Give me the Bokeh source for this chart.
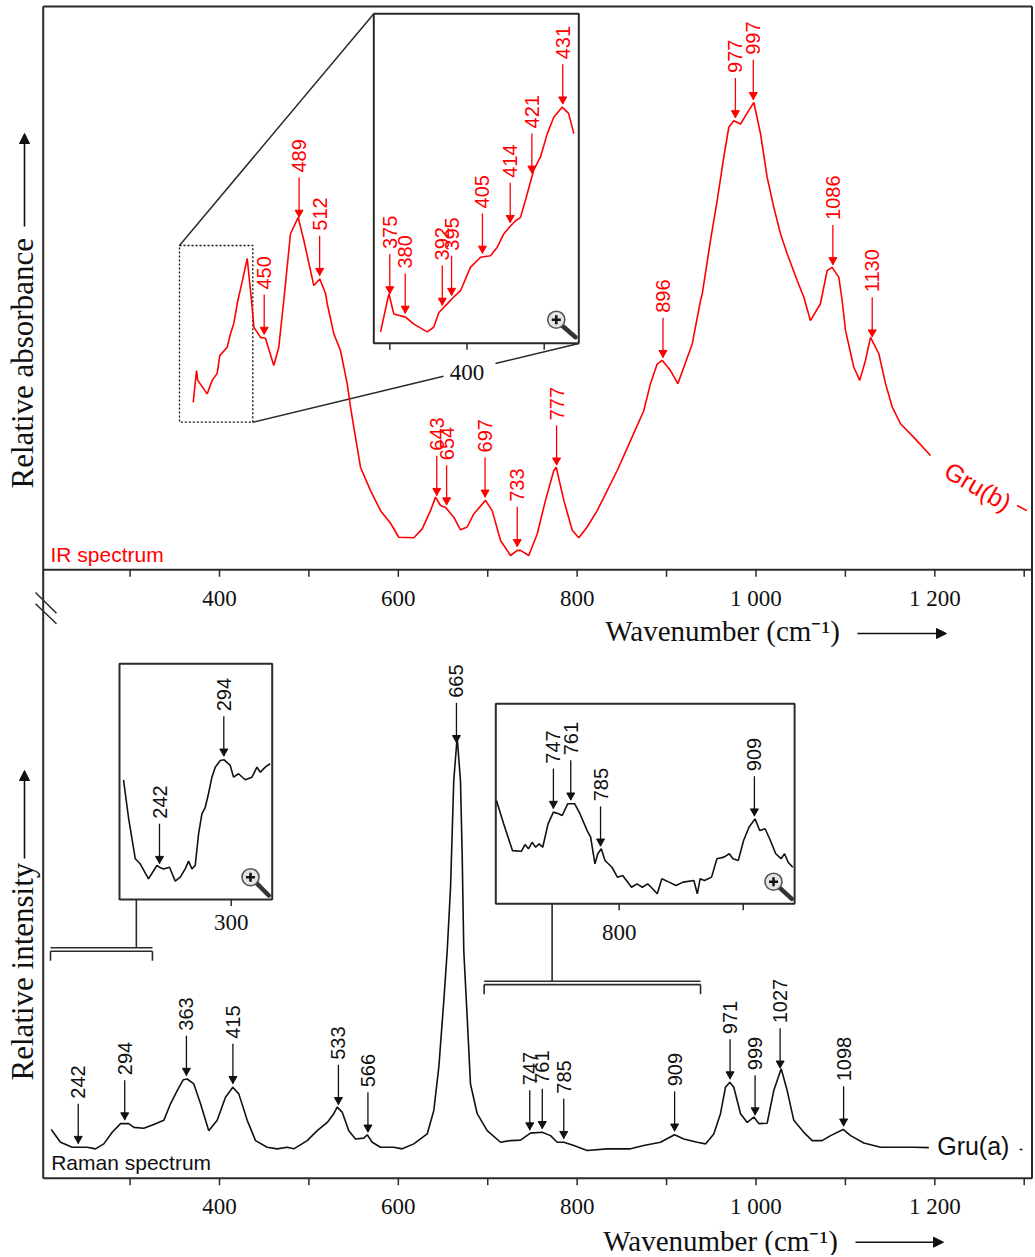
import numpy as np
from bokeh.plotting import figure
from bokeh.models import Range1d, Arrow, NormalHead
from bokeh.embed import file_html
from bokeh.resources import INLINE
from bokeh.core.properties import value

# ------------------------------------------------------------------ data
# IR spectrum (relative absorbance, peak = 1)
ir_wn = [370.6, 374.3, 375.7, 386.2, 391.8, 397.4, 400.3, 408.6, 412.3, 416.0, 420.5, 425.7, 431.0, 435.8,
         438.4, 445.9, 451.4, 460.7, 466.3, 471.9, 473.8, 479.4, 488.0, 494.3, 505.5, 512.2, 518.6, 520.5,
         527.8, 535.3, 542.8, 546.5, 550.2, 557.7, 568.9, 580.1, 591.3, 600.5, 617.3, 626.7, 636.0, 641.6,
         647.2, 652.8, 662.0, 669.5, 677.0, 684.4, 697.5, 705.0, 714.3, 725.5, 733.0, 736.6, 745.9, 755.3,
         764.6, 773.9, 776.6, 785.1, 794.5, 801.8, 811.2, 822.4, 833.6, 844.8, 859.7, 874.5, 882.0, 889.5,
         895.1, 904.4, 912.6, 919.3, 928.7, 938.0, 939.9, 949.1, 956.6, 964.0, 969.6, 975.2, 982.7, 992.0,
         997.6, 1005.1, 1012.5, 1019.9, 1027.4, 1034.9, 1046.1, 1053.5, 1060.9, 1072.1, 1079.6, 1085.2,
         1092.6, 1096.4, 1100.1, 1109.4, 1116.1, 1122.5, 1128.1, 1137.4, 1144.9, 1152.4, 1161.7, 1176.5, 1195.2]
ir_abs = [0.358, 0.426, 0.405, 0.376, 0.405, 0.420, 0.458, 0.476, 0.505, 0.527, 0.576, 0.619, 0.666, 0.576,
          0.519, 0.497, 0.495, 0.437, 0.476, 0.576, 0.612, 0.719, 0.754, 0.705, 0.608, 0.622, 0.591, 0.569,
          0.505, 0.469, 0.398, 0.348, 0.305, 0.219, 0.169, 0.126, 0.099, 0.069, 0.068, 0.087, 0.126, 0.155,
          0.137, 0.133, 0.112, 0.085, 0.091, 0.119, 0.148, 0.126, 0.062, 0.030, 0.041, 0.041, 0.030, 0.076,
          0.148, 0.212, 0.219, 0.148, 0.084, 0.068, 0.091, 0.126, 0.169, 0.212, 0.276, 0.340, 0.398, 0.440,
          0.448, 0.426, 0.398, 0.433, 0.483, 0.576, 0.590, 0.704, 0.790, 0.883, 0.947, 0.961, 0.954, 0.983,
          1.000, 0.933, 0.840, 0.776, 0.719, 0.676, 0.619, 0.583, 0.533, 0.569, 0.640, 0.647,
          0.626, 0.576, 0.512, 0.433, 0.405, 0.448, 0.497, 0.462, 0.398, 0.348, 0.312, 0.283, 0.244]
ir_tail_wn = [1292, 1303]
ir_tail_abs = [0.137, 0.126]
ir_peaks = [450, 489, 512, 643, 654, 697, 733, 777, 896, 977, 997, 1086, 1130]

# IR zoom (inset)
ir_zoom_wn = [372.0, 374.2, 374.7, 376.3, 380.1, 382.8, 387.1, 389.2, 390.9, 393.6, 395.2, 397.9, 401.1, 404.4,
              407.6, 409.8, 411.9, 413.8, 415.7, 417.3, 418.9, 421.6, 423.8, 426.0, 428.1, 430.8, 432.9, 434.6]
ir_zoom_abs = [0.377, 0.417, 0.426, 0.400, 0.396, 0.387, 0.377, 0.383, 0.402, 0.413, 0.420, 0.430, 0.460, 0.473,
               0.475, 0.486, 0.503, 0.512, 0.520, 0.524, 0.546, 0.585, 0.602, 0.632, 0.653, 0.666, 0.658, 0.632]
ir_zoom_peaks = [375, 380, 392, 395, 405, 414, 421, 431]
ir_zoom_ticks = [375, 400, 425]
ir_zoom_tick_labels = ["", "400", ""]

# Raman spectrum (relative intensity, peak = 1)
raman_wn = [211.8, 222.2, 235.3, 252.0, 261.3, 270.6, 280.0, 289.3, 298.6, 304.2, 315.3, 326.5, 337.7, 345.2,
            352.7, 359.4, 363.9, 371.3, 378.8, 388.0, 397.4, 406.7, 414.9, 421.6, 431.0, 440.3, 453.3, 464.5,
            475.7, 483.1, 498.1, 509.3, 520.5, 527.8, 531.6, 537.2, 544.6, 552.1, 561.4, 565.2, 570.8, 580.1,
            594.9, 604.3, 617.3, 632.3, 639.7, 645.3, 650.9, 654.7, 658.4, 662.0, 665.8, 669.5, 671.4, 673.2,
            675.1, 677.0, 680.7, 688.2, 699.4, 714.3, 725.5, 736.6, 747.8, 760.9, 770.2, 777.7, 785.1, 796.3,
            811.2, 833.6, 859.7, 874.5, 893.2, 908.9, 919.3, 934.3, 943.6, 952.8, 960.3, 965.9, 970.7, 975.2,
            982.7, 990.2, 997.6, 1003.2, 1012.5, 1019.9, 1028.2, 1034.9, 1042.3, 1053.5, 1062.9, 1074.0,
            1083.4, 1097.5, 1105.8, 1120.6, 1139.3, 1158.0, 1176.5, 1193.3]
raman_int = [0.051, 0.020, 0.008, 0.008, 0.004, 0.016, 0.044, 0.065, 0.065, 0.056, 0.054, 0.063, 0.073, 0.113,
             0.145, 0.171, 0.173, 0.161, 0.113, 0.048, 0.073, 0.129, 0.153, 0.137, 0.073, 0.024, 0.008, 0.004,
             0.008, 0.004, 0.024, 0.048, 0.068, 0.089, 0.105, 0.093, 0.048, 0.028, 0.030, 0.038, 0.020, 0.008,
             0.008, 0.004, 0.016, 0.040, 0.097, 0.202, 0.363, 0.484, 0.637, 0.895, 1.000, 0.895, 0.718, 0.484,
             0.403, 0.323, 0.161, 0.089, 0.048, 0.020, 0.024, 0.025, 0.042, 0.044, 0.036, 0.020, 0.020, 0.012,
             0.000, 0.004, 0.004, 0.012, 0.020, 0.038, 0.028, 0.020, 0.016, 0.040, 0.089, 0.153, 0.165, 0.153,
             0.089, 0.068, 0.081, 0.065, 0.066, 0.145, 0.198, 0.145, 0.073, 0.044, 0.024, 0.024,
             0.036, 0.051, 0.036, 0.018, 0.008, 0.008, 0.008, 0.007]
raman_tail_wn = [1295, 1298]
raman_tail_int = [0.003, 0.002]
raman_peaks = [242, 294, 363, 415, 533, 566, 665, 747, 761, 785, 909, 971, 999, 1027, 1098]

# Raman zoom 1 (left inset)
raman_z1_wn = [212.9, 216.9, 222.4, 226.4, 233.1, 239.9, 242.0, 245.2, 250.1, 254.7, 258.8, 262.8, 265.5, 268.2,
               270.9, 273.6, 276.3, 279.0, 281.6, 284.4, 287.1, 291.1, 294.3, 299.2, 301.9, 305.9, 311.3, 316.8,
               320.8, 323.5, 327.5, 331.5]
raman_z1_int = [0.0544, 0.0345, 0.0125, 0.0098, 0.0018, 0.0089, 0.0080, 0.0071, 0.0080, 0.0006, 0.0027, 0.0071,
                0.0112, 0.0071, 0.0089, 0.0257, 0.0363, 0.0398, 0.0470, 0.0558, 0.0611, 0.0646, 0.0650, 0.0620,
                0.0558, 0.0576, 0.0544, 0.0558, 0.0611, 0.0584, 0.0611, 0.0629]
raman_z1_peaks = [242, 294]
raman_z1_ticks = [300]
raman_z1_tick_labels = ["300"]

# Raman zoom 2 (right inset)
raman_z2_wn = [701.1, 706.9, 714.0, 721.2, 724.1, 726.9, 729.8, 732.7, 735.5, 738.4, 742.7, 747.0, 751.2, 754.1,
               758.5, 764.2, 768.4, 774.2, 777.0, 780.5, 782.8, 785.6, 788.6, 794.2, 798.6, 802.8, 810.0, 814.3,
               818.7, 823.0, 825.8, 830.7, 834.4, 840.2, 845.8, 851.6, 860.2, 863.0, 865.3, 868.8, 874.5, 878.8,
               884.5, 888.8, 891.7, 896.0, 900.3, 904.6, 909.5, 913.3, 917.6, 921.9, 926.2, 930.5, 933.3, 936.2,
               940.0]
raman_z2_int = [0.0455, 0.0351, 0.0232, 0.0229, 0.0259, 0.0240, 0.0269, 0.0247, 0.0262, 0.0247, 0.0351, 0.0403,
                0.0396, 0.0388, 0.0440, 0.0440, 0.0396, 0.0321, 0.0292, 0.0173, 0.0218, 0.0240, 0.0188, 0.0158,
                0.0114, 0.0121, 0.0069, 0.0084, 0.0069, 0.0084, 0.0069, 0.0040, 0.0107, 0.0092, 0.0077, 0.0092,
                0.0099, 0.0040, 0.0107, 0.0099, 0.0114, 0.0196, 0.0203, 0.0218, 0.0196, 0.0188, 0.0277, 0.0336,
                0.0373, 0.0321, 0.0329, 0.0277, 0.0218, 0.0196, 0.0218, 0.0180, 0.0158]
raman_z2_peaks = [747, 761, 785, 909]
raman_z2_ticks = [800, 900]
raman_z2_tick_labels = ["800", ""]

# main wavenumber axes
major_ticks = [400, 600, 800, 1000, 1200]
major_labels = ["400", "600", "800", "1 000", "1 200"]
minor_ticks = [300, 500, 700, 900, 1100, 1300]

# wavenumber spans shown in the Raman insets (brackets)
raman_z1_span = [211, 325]
raman_z2_span = [696, 938]

# ------------------------------------------------------------------ layout
W, H = 1033, 1255
FX = (0, W)      # layout units (page pixels) across the frame
FY = (H, 0)      # layout units bottom -> top

X_ANCHORS = {
    "wn": (400, 219.0, 1200, 934.3),
    "irx": (375, 389.3, 425, 543.7),
    "r1x": (242, 159.0, 294, 223.3),
    "r2x": (747, 552.9, 909, 753.9),
}
Y_ANCHORS = {
    "ir": (0.0, 569.0, 1.0, 102.0),
    "iry": (0.426, 293.3, 0.666, 106.7),
    "ra": (0.0, 1150.0, 1.0, 736.7),
    "r1y": (0.008, 866.7, 0.065, 759.3),
    "r2y": (0.004, 893.3, 0.044, 803.3),
}


def fit(anchor, lo, hi):
    d0, r0, d1, r1 = anchor
    s = (r1 - r0) / (d1 - d0)
    return Range1d(start=d0 + (lo - r0) / s, end=d0 + (hi - r0) / s)


def upp(name):
    d0, r0, d1, r1 = Y_ANCHORS[name]
    return (d1 - d0) / abs(r1 - r0)


RED = "#ff0000"
INK = "#111111"
FRAME = "#2a2a2a"
SANS = value("Liberation Sans")
SERIF = value("Liberation Serif")

p = figure(width=W, height=H, x_range=Range1d(*FX), y_range=Range1d(*FY),
           output_backend="svg", toolbar_location=None,
           x_axis_location=None, y_axis_location=None, min_border=0,
           outline_line_color=None, background_fill_color="white", border_fill_color="white")
p.grid.grid_line_color = None
p.extra_x_ranges = {k: fit(v, *FX) for k, v in X_ANCHORS.items()}
p.extra_y_ranges = {k: fit(v, *FY) for k, v in Y_ANCHORS.items()}

# ---- connectors / dotted box of the IR zoom
p.multi_line(xs=[[179, 373.3], [252.3, 443], [495, 578.3]],
             ys=[[245, 13.3], [421.7, 375.7], [363.1, 343]],
             line_color=FRAME, line_width=1.5)
p.quad(left=179, right=252.3, top=245, bottom=421.7, fill_color=None,
       line_color=INK, line_width=1.3, line_dash="2 2")

# ---- frame and axis lines
p.multi_line(xs=[[42.7, 1031.5], [42.7, 42.7], [1031.5, 1031.5], [42.7, 1031.5], [42.7, 1031.5]],
             ys=[[6, 6], [6, 1178], [6, 1178], [569.3, 569.3], [1177.7, 1177.7]],
             line_color=FRAME, line_width=2)
p.multi_line(xs=[[35, 56], [35, 56]], ys=[[592, 612.7], [603.3, 623.3]], line_color=FRAME, line_width=1.5)

all_ticks = major_ticks + minor_ticks
for yb in (569.3, 1177.7):
    p.segment(x0=all_ticks, y0=[yb] * len(all_ticks), x1=all_ticks, y1=[yb + 7] * len(all_ticks),
              x_range_name="wn", line_color=FRAME, line_width=1.5)
p.text(x=major_ticks * 2, y=[597.5] * len(major_ticks) + [1206] * len(major_ticks), text=major_labels * 2,
       x_range_name="wn", text_font=SERIF, text_font_size="23px", text_align="center",
       text_baseline="middle", text_color=INK)

# ---- brackets + connectors for Raman zooms
for span, yb, xc, ytop in ((raman_z1_span, 947.3, 307, 899), (raman_z2_span, 980.7, 772, 903.3)):
    a, b = span
    p.multi_line(xs=[[a, b], [a, b], [a, a], [b, b], [xc, xc]],
                 ys=[[yb, yb], [yb + 3.4, yb + 3.4], [yb + 3.4, yb + 13], [yb + 3.4, yb + 13], [ytop, yb]],
                 x_range_name="wn", line_color=FRAME, line_width=1.6)

# ---- inset boxes
for (l, r, t, b) in ((373.3, 578.3, 13.3, 342.7), (119, 271.7, 663.3, 899), (495.3, 794.1, 703.3, 903.3)):
    p.quad(left=l, right=r, top=t, bottom=b, fill_color="white", line_color=FRAME, line_width=2)

# inset ticks + labels
for ticks, labels, xr, yb, ylab in ((ir_zoom_ticks, ir_zoom_tick_labels, "irx", 342.7, 372),
                                    (raman_z1_ticks, raman_z1_tick_labels, "r1x", 899, 921.7),
                                    (raman_z2_ticks, raman_z2_tick_labels, "r2x", 903.3, 931.7)):
    p.segment(x0=ticks, y0=[yb] * len(ticks), x1=ticks, y1=[yb + 6.5] * len(ticks),
              x_range_name=xr, line_color=FRAME, line_width=1.5)
    p.text(x=ticks, y=[ylab] * len(ticks), text=labels, x_range_name=xr, text_font=SERIF,
           text_font_size="23px", text_align="center", text_baseline="middle", text_color=INK)

# ---- spectra
p.line(ir_wn, ir_abs, x_range_name="wn", y_range_name="ir", line_color=RED, line_width=1.6)
p.line(ir_tail_wn, ir_tail_abs, x_range_name="wn", y_range_name="ir", line_color=RED, line_width=1.6)
p.line(ir_zoom_wn, ir_zoom_abs, x_range_name="irx", y_range_name="iry", line_color=RED, line_width=1.6)
p.line(raman_wn, raman_int, x_range_name="wn", y_range_name="ra", line_color=INK, line_width=1.6)
p.line(raman_tail_wn, raman_tail_int, x_range_name="wn", y_range_name="ra", line_color=INK, line_width=1.6)
p.line(raman_z1_wn, raman_z1_int, x_range_name="r1x", y_range_name="r1y", line_color=INK, line_width=1.6)
p.line(raman_z2_wn, raman_z2_int, x_range_name="r2x", y_range_name="r2y", line_color=INK, line_width=1.6)


def peak_marks(peaks, wn, vals, xr, yr, color):
    u = upp(yr)
    base = np.interp(peaks, wn, vals)
    tip = base + 3.5 * u
    top = tip + 40 * u
    p.segment(x0=peaks, y0=top, x1=peaks, y1=tip, x_range_name=xr, y_range_name=yr,
              line_color=color, line_width=1.3)
    p.scatter(x=peaks, y=tip + 5 * u, marker="inverted_triangle", size=8, x_range_name=xr, y_range_name=yr,
              fill_color=color, line_color=color)
    p.text(x=peaks, y=top + 5 * u, text=[str(v) for v in peaks], angle=np.pi / 2, x_range_name=xr,
           y_range_name=yr, text_align="left", text_baseline="middle", text_font=SANS,
           text_font_size="20px", text_color=color)


peak_marks(ir_peaks, ir_wn, ir_abs, "wn", "ir", RED)
peak_marks(ir_zoom_peaks, ir_zoom_wn, ir_zoom_abs, "irx", "iry", RED)
peak_marks(raman_peaks, raman_wn, raman_int, "wn", "ra", INK)
peak_marks(raman_z1_peaks, raman_z1_wn, raman_z1_int, "r1x", "r1y", INK)
peak_marks(raman_z2_peaks, raman_z2_wn, raman_z2_int, "r2x", "r2y", INK)

# ---- magnifier icons
mag_c = [(555.8, 319.2), (250.0, 876.7), (773.0, 881.2)]
mag_e = [(575, 336.7), (268.3, 895), (791.3, 898.3)]
p.segment(x0=[c[0] + 6 for c in mag_c], y0=[c[1] + 6 for c in mag_c], x1=[e[0] for e in mag_e],
          y1=[e[1] for e in mag_e], line_color="#333333", line_width=4.5, line_cap="round")
p.scatter(x=[c[0] for c in mag_c], y=[c[1] for c in mag_c], marker="circle", size=17,
          fill_color="#e4e4e4", line_color="#555555", line_width=1.6)
p.scatter(x=[c[0] for c in mag_c], y=[c[1] for c in mag_c], marker="cross", size=9,
          line_color=INK, line_width=2.5)

# ---- texts
p.text(x=[50], y=[554], text=["IR spectrum"], text_font=SANS, text_font_size="21px",
       text_color=RED, text_align="left", text_baseline="middle")
p.text(x=[50.7], y=[1162], text=["Raman spectrum"], text_font=SANS, text_font_size="21px",
       text_color=INK, text_align="left", text_baseline="middle")
p.text(x=[936.7], y=[1145], text=["Gru(a)"], text_font=SANS, text_font_size="25px",
       text_color=INK, text_align="left", text_baseline="middle")
p.text(x=[977.5], y=[486], text=["Gru(b)"], text_font=SANS, text_font_size="25px",
       text_color=RED, text_align="center", text_baseline="middle", angle=-0.53)

p.text(x=[722, 720], y=[630, 1240], text=["Wavenumber (cm\u207b\u00b9)"] * 2, text_font=SERIF,
       text_font_size="29px", text_color=INK, text_align="center", text_baseline="middle")
p.text(x=[21.5, 21.5], y=[488, 1080], text=["Relative absorbance", "Relative intensity"], angle=np.pi / 2,
       text_font=SERIF, text_font_size="31px", text_color=INK, text_align="left", text_baseline="middle")

for xs, ys, xe, ye in ((857, 633, 946, 633), (855, 1241.7, 943, 1241.7), (24, 226, 24, 133), (24, 858, 24, 770)):
    p.add_layout(Arrow(end=NormalHead(size=10, fill_color=INK, line_color=INK),
                       x_start=xs, y_start=ys, x_end=xe, y_end=ye, line_color=INK, line_width=1.6))

open("out.html", "w").write(file_html(p, INLINE))
